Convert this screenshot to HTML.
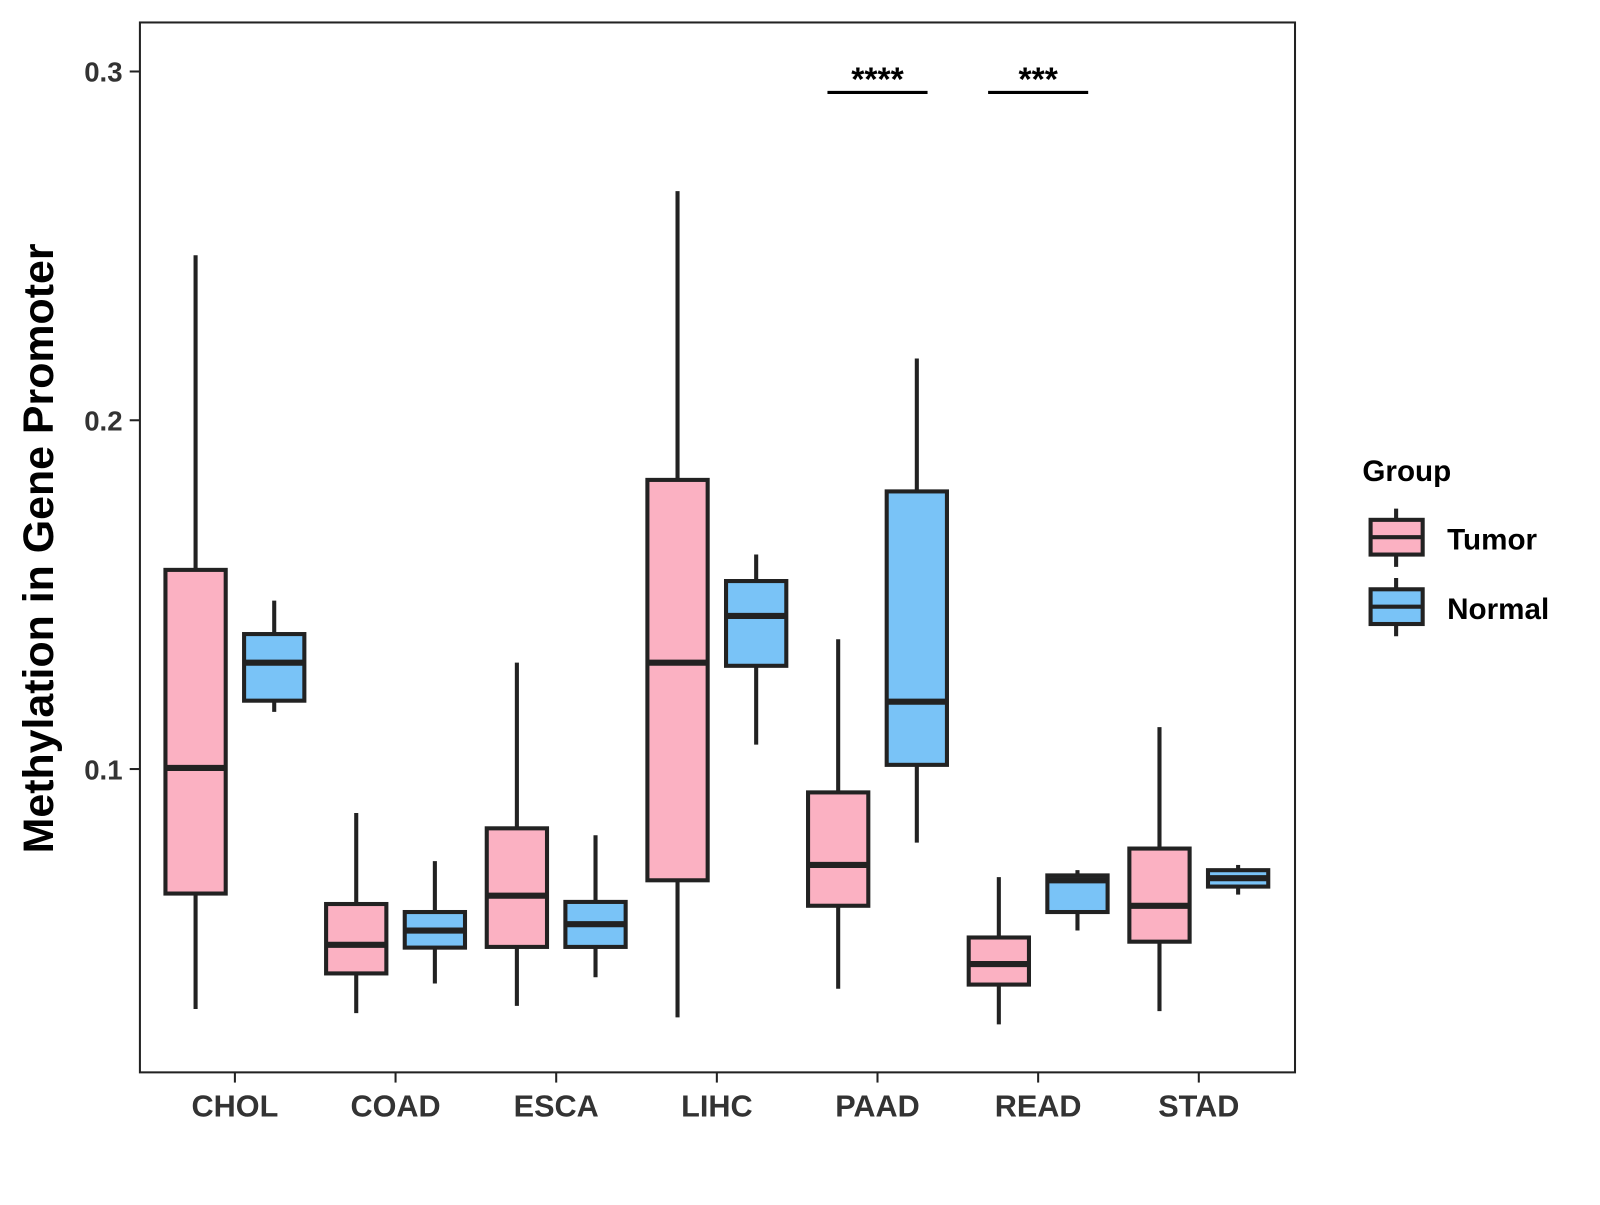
<!DOCTYPE html>
<html><head><meta charset="utf-8"><style>
body{margin:0;background:#fff;width:1600px;height:1200px;overflow:hidden}
svg text{font-family:"Liberation Sans",Arial,sans-serif;font-weight:bold}
</style></head><body>
<svg id="chart" width="1600" height="1200" xmlns="http://www.w3.org/2000/svg">
<g transform="scale(1.0213)">
<rect x="137" y="22" width="1131" height="1028" fill="#fff" stroke="#222" stroke-width="2"/>
<g id="marks"></g>
<g id="axes"></g>
<text x="0" y="0" transform="translate(52,537) rotate(-90)" text-anchor="middle" font-size="42" fill="#000">Methylation in Gene Promoter</text>
<g>
<text x="1334" y="471" font-size="29" fill="#000">Group</text>
<g>
<line x1="1367" y1="498" x2="1367" y2="555" stroke="#222" stroke-width="4"/>
<rect x="1342" y="509" width="51" height="34" fill="#FBB1C2" stroke="#222" stroke-width="4"/>
<line x1="1342" y1="526" x2="1393" y2="526" stroke="#222" stroke-width="4"/>
<text x="1417" y="538" font-size="29" fill="#000">Tumor</text></g>
<g>
<line x1="1367" y1="566" x2="1367" y2="623" stroke="#222" stroke-width="4"/>
<rect x="1342" y="577" width="51" height="34" fill="#79C3F7" stroke="#222" stroke-width="4"/>
<line x1="1342" y1="594" x2="1393" y2="594" stroke="#222" stroke-width="4"/>
<text x="1417" y="606" font-size="29" fill="#000">Normal</text></g>
</g>
</g>
</svg>
<script>
const categories=["CHOL","COAD","ESCA","LIHC","PAAD","READ","STAD"];
const tumorStats=[[0.0312,0.0643,0.1003,0.1571,0.2473],[0.030,0.0414,0.0496,0.0613,0.0874],[0.0321,0.0490,0.0637,0.0830,0.1305],[0.0288,0.0681,0.1305,0.1829,0.2657],[0.037,0.0608,0.0725,0.0933,0.1372],[0.0268,0.0382,0.0441,0.0517,0.069],[0.0306,0.0505,0.0608,0.0772,0.112]];
const normalStats=[[0.1164,0.1196,0.1305,0.1387,0.1483],[0.0385,0.0488,0.0537,0.059,0.0736],[0.0403,0.049,0.0555,0.0619,0.081],[0.107,0.1296,0.1439,0.1539,0.1615],[0.0789,0.1012,0.1193,0.1796,0.2177],[0.0537,0.059,0.0681,0.0695,0.071],[0.064,0.0663,0.0687,0.071,0.0725]];
const yTicks=[0.1,0.2,0.3];
const yTickLabels=["0.1","0.2","0.3"];
const sigCats=["PAAD","READ"];
const sigLabels=["****","***"];
const sigLevel=0.294;

const NS="http://www.w3.org/2000/svg";
const y=v=>753-(v-0.1)*3415;
const x=i=>230+i*157.3;
const marks=document.getElementById('marks'),axes=document.getElementById('axes');
function mk(tag,attrs,parent){const e=document.createElementNS(NS,tag);for(const k in attrs)e.setAttribute(k,attrs[k]);parent.appendChild(e);return e;}
function box(cx,s,fill,name){
  const g=mk('g',{},marks);
  
  
  mk('line',{x1:cx,x2:cx,y1:y(s[0]),y2:y(s[4]),stroke:'#222','stroke-width':4},g);
  mk('rect',{x:cx-29.5,y:y(s[3]),width:59,height:y(s[1])-y(s[3]),fill:fill,stroke:'#222','stroke-width':4},g);
  mk('line',{x1:cx-29.5,x2:cx+29.5,y1:y(s[2]),y2:y(s[2]),stroke:'#222','stroke-width':6},g);
}
categories.forEach((c,i)=>{
  box(x(i)-38.5,tumorStats[i],'#FBB1C2','box-tumor-'+c.toLowerCase());
  box(x(i)+38.5,normalStats[i],'#79C3F7','box-normal-'+c.toLowerCase());
  mk('line',{x1:x(i),x2:x(i),y1:1050,y2:1060,stroke:'#222','stroke-width':2},axes);
  const l=mk('text',{x:x(i),y:1093,'text-anchor':'middle','font-size':30,fill:'#333'},axes);
  
  
  l.textContent=c;
});
yTicks.forEach((v,i)=>{
  mk('line',{x1:127,x2:137,y1:y(v),y2:y(v),stroke:'#222','stroke-width':2},axes);
  const l=mk('text',{x:120,y:y(v)+10,'text-anchor':'end','font-size':27,fill:'#333'},axes);
  
  
  l.textContent=yTickLabels[i];
});
sigCats.forEach((c,k)=>{
  const i=categories.indexOf(c);
  const g=mk('g',{},marks);
  
  
  mk('line',{x1:x(i)-49,x2:x(i)+49,y1:y(sigLevel),y2:y(sigLevel),stroke:'#000','stroke-width':3},g);
  const t=mk('text',{x:x(i),y:y(sigLevel)-2,'text-anchor':'middle','font-size':33,fill:'#000'},g);
  t.textContent=sigLabels[k];
});
</script>
</body></html>
